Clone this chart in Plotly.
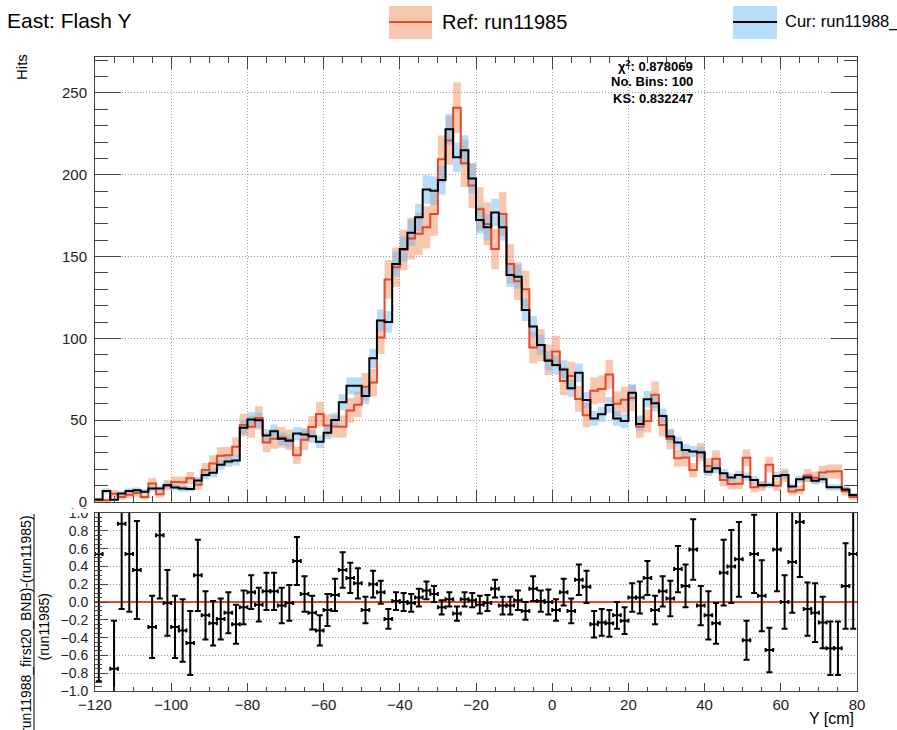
import numpy as np
import plotly.graph_objects as go

# ---------------- data ----------------
BIN_LO, BIN_HI, NBINS = -120.0, 80.0, 100

ref_hits = [
    1.0, 1.0, 5.0, 3.0, 4.5, 5.5, 3.0, 11.3, 4.8, 10.3,
    12.2, 12.0, 14.5, 10.5, 19.5, 23.6, 28.2, 28.5, 33.8, 47.0,
    46.0, 51.3, 36.4, 38.7, 39.5, 38.0, 28.5, 38.0, 45.8, 53.8,
    46.8, 46.2, 46.0, 56.0, 59.5, 70.5, 73.0, 100.5, 136.0, 143.5,
    154.0, 161.0, 164.0, 168.0, 176.0, 209.5, 221.0, 241.0, 207.0, 193.5,
    179.0, 170.0, 154.6, 176.0, 145.5, 135.0, 130.0, 94.5, 96.0, 87.0,
    92.0, 74.0, 77.0, 63.0, 53.0, 68.0, 69.0, 78.0, 60.0, 62.5,
    63.5, 46.0, 49.5, 65.5, 47.0, 38.5, 26.8, 27.2, 19.5, 30.5,
    22.0, 26.5, 13.4, 11.0, 11.2, 27.0, 9.0, 9.8, 22.8, 10.0,
    16.4, 6.4, 7.4, 16.2, 14.8, 18.0, 18.6, 18.8, 6.6, 3.0,
]
ref_err = [
    1.0, 1.0, 2.2, 1.7, 2.1, 2.3, 1.7, 3.4, 2.2, 3.2,
    3.5, 3.5, 3.8, 3.2, 4.4, 4.9, 5.3, 5.3, 5.8, 6.9,
    6.8, 7.2, 6.0, 6.2, 6.3, 6.2, 5.3, 6.2, 6.8, 7.3,
    6.8, 6.8, 6.8, 7.5, 7.7, 8.4, 8.5, 10.0, 11.7, 12.0,
    12.4, 12.7, 12.8, 13.0, 13.3, 14.5, 14.9, 15.5, 14.4, 13.9,
    13.4, 13.0, 12.4, 13.3, 12.1, 11.6, 11.4, 9.7, 9.8, 9.3,
    9.6, 8.6, 8.8, 7.9, 7.3, 8.2, 8.3, 8.8, 7.7, 7.9,
    8.0, 6.8, 7.0, 8.1, 6.9, 6.2, 5.2, 5.2, 4.4, 5.5,
    4.7, 5.1, 3.7, 3.3, 3.3, 5.2, 3.0, 3.1, 4.8, 3.2,
    4.0, 2.5, 2.7, 4.0, 3.8, 4.2, 4.3, 4.3, 2.6, 1.7,
]
cur_hits = [
    1.5, 6.8, 1.4, 5.2, 6.8, 7.2, 6.2, 8.2, 8.2, 10.3,
    8.9, 8.2, 8.0, 13.2, 16.5, 17.9, 22.7, 24.7, 25.4, 45.4,
    50.5, 50.0, 40.6, 43.3, 38.6, 37.4, 41.8, 41.2, 40.2, 36.8,
    42.4, 50.1, 61.0, 71.0, 71.0, 64.8, 87.8, 111.0, 110.0, 145.5,
    154.6, 164.6, 174.0, 191.0, 190.3, 196.8, 227.8, 210.7, 215.0, 197.8,
    172.4, 168.0, 177.0, 168.0, 138.8, 137.7, 117.4, 107.2, 96.0, 86.4,
    83.7, 81.0, 69.5, 79.0, 62.3, 51.1, 53.6, 59.3, 51.1, 49.5,
    66.8, 47.7, 62.8, 60.3, 52.6, 40.0, 36.3, 31.8, 30.8, 30.2,
    18.5, 20.6, 17.5, 15.0, 16.5, 15.5, 13.4, 10.4, 10.4, 15.9,
    16.5, 9.4, 13.9, 15.0, 13.0, 13.9, 9.0, 9.0, 7.7, 4.3,
]
cur_err = [
    0.8, 1.6, 0.7, 1.4, 1.6, 1.7, 1.6, 1.8, 1.8, 2.0,
    1.9, 1.8, 1.8, 2.3, 2.6, 2.7, 3.0, 3.1, 3.2, 4.2,
    4.5, 4.5, 4.0, 4.1, 3.9, 3.9, 4.1, 4.0, 4.0, 3.8,
    4.1, 4.5, 4.9, 5.3, 5.3, 5.1, 5.9, 6.6, 6.6, 7.6,
    7.8, 8.1, 8.3, 8.7, 8.7, 8.8, 9.5, 9.1, 9.2, 8.9,
    8.3, 8.2, 8.4, 8.2, 7.4, 7.4, 6.8, 6.5, 6.2, 5.9,
    5.8, 5.7, 5.3, 5.6, 5.0, 4.5, 4.6, 4.9, 4.5, 4.4,
    5.1, 4.4, 5.0, 4.9, 4.6, 4.0, 3.8, 3.6, 3.5, 3.5,
    2.7, 2.9, 2.6, 2.4, 2.6, 2.5, 2.3, 2.0, 2.0, 2.5,
    2.6, 1.9, 2.3, 2.4, 2.3, 2.3, 1.9, 1.9, 1.7, 1.3,
]
ratio = [
    0.54, None, -0.75, 0.88, 0.54, 0.36, None, -0.28, 0.75, -0.01,
    -0.28, -0.32, -0.46, 0.30, -0.15, -0.24, -0.19, -0.12, -0.25, -0.06,
    0.11, -0.03, 0.12, 0.12, -0.04, -0.01, 0.46, 0.09, -0.12, -0.32,
    -0.09, 0.08, 0.36, 0.27, 0.21, -0.09, 0.20, 0.11, -0.19, 0.01,
    0.00, -0.01, 0.05, 0.13, 0.09, -0.06, 0.03, -0.13, 0.03, 0.02,
    -0.03, -0.01, 0.15, -0.04, -0.04, 0.02, -0.10, 0.15, 0.01, 0.00,
    -0.09, 0.11, -0.10, 0.25, 0.17, -0.25, -0.23, -0.24, -0.15, -0.21,
    0.05, 0.05, 0.27, -0.09, 0.12, 0.04, 0.37, 0.18, 0.59, -0.04,
    -0.15, -0.24, 0.33, 0.40, 0.48, -0.43, 0.54, 0.07, -0.54, 0.59,
    0.00, 0.45, 0.90, -0.08, -0.12, -0.23, -0.52, -0.52, 0.18, 0.54,
]
ratio_err = [
    1.43, 0, 0.54, 0.96, 0.65, 0.55, 0, 0.35, 0.71, 0.37,
    0.35, 0.35, 0.36, 0.40, 0.27, 0.25, 0.23, 0.23, 0.22, 0.19,
    0.19, 0.19, 0.21, 0.21, 0.20, 0.20, 0.27, 0.20, 0.19, 0.17,
    0.18, 0.18, 0.20, 0.17, 0.17, 0.15, 0.15, 0.13, 0.11, 0.10,
    0.10, 0.10, 0.10, 0.10, 0.09, 0.08, 0.08, 0.08, 0.08, 0.08,
    0.10, 0.09, 0.10, 0.10, 0.10, 0.11, 0.10, 0.14, 0.12, 0.14,
    0.12, 0.15, 0.14, 0.17, 0.18, 0.15, 0.15, 0.15, 0.15, 0.15,
    0.16, 0.18, 0.19, 0.16, 0.17, 0.20, 0.26, 0.24, 0.34, 0.22,
    0.27, 0.23, 0.37, 0.41, 0.42, 0.22, 0.44, 0.40, 0.25, 0.47,
    0.30, 0.57, 0.62, 0.30, 0.33, 0.29, 0.30, 0.30, 0.48, 0.84,
]

stats_lines = ["χ<sup>2</sup>: 0.878069", "No. Bins: 100", "KS: 0.832247"]

# ---------------- helpers ----------------
edges = np.linspace(BIN_LO, BIN_HI, NBINS + 1)
centers = 0.5 * (edges[:-1] + edges[1:])
halfw = 0.5 * (edges[1] - edges[0])

FONT = "Liberation Sans, Arial, Helvetica, sans-serif"
RED = "#e8472a"
REF_FILL = "rgba(238,130,80,0.45)"
CUR_FILL = "rgba(110,190,245,0.50)"
GRID = "#9a9a9a"
GRID_DASH = "1px,2px"

W, H = 897, 730
ML, MR, MT, MB = 95, 40, 57, 39
PW, PH = W - ML - MR, H - MT - MB


def PX(xp):
    return (xp - ML) / PW


def PY(yp):
    return (H - MB - yp) / PH


def band(vals, errs):
    xs, ys = [], []
    for i in range(NBINS):
        xs += [edges[i], edges[i + 1]]
        ys += [vals[i] + errs[i]] * 2
    for i in reversed(range(NBINS)):
        xs += [edges[i + 1], edges[i]]
        ys += [max(vals[i] - errs[i], 0)] * 2
    return xs, ys


def step(vals):
    return list(edges), list(vals) + [vals[-1]]


fig = go.Figure()

for vals, errs, col in [(ref_hits, ref_err, REF_FILL), (cur_hits, cur_err, CUR_FILL)]:
    bx, by = band(vals, errs)
    fig.add_trace(go.Scatter(x=bx, y=by, fill="toself", fillcolor=col, mode="lines",
                             line=dict(width=0), hoverinfo="skip", showlegend=False,
                             xaxis="x", yaxis="y"))
for vals, col in [(ref_hits, RED), (cur_hits, "black")]:
    sx, sy = step(vals)
    fig.add_trace(go.Scatter(x=sx, y=sy, mode="lines", line=dict(color=col, width=2, shape="hv"),
                             showlegend=False, xaxis="x", yaxis="y"))

fig.add_trace(go.Scatter(x=[BIN_LO, BIN_HI], y=[0, 0], mode="lines",
                         line=dict(color=RED, width=2), showlegend=False,
                         xaxis="x2", yaxis="y2"))
fig.add_trace(go.Scatter(
    x=centers, y=ratio, mode="markers",
    marker=dict(size=2, color="black"),
    error_x=dict(type="constant", value=halfw, color="black", thickness=2, width=2),
    error_y=dict(type="data", array=ratio_err, color="black", thickness=2, width=3),
    showlegend=False, xaxis="x2", yaxis="y2"))

axis_common = dict(showline=True, linecolor="#444", linewidth=1, ticks="inside",
                   tickcolor="#444", tickfont=dict(family=FONT, size=15, color="#222"),
                   zeroline=False)

top_dom = [PY(502), 1.0]
bot_dom = [0.0, PY(513)]

fig.update_layout(
    width=W, height=H, margin=dict(l=ML, r=MR, t=MT, b=MB),
    paper_bgcolor="white", plot_bgcolor="white",
    xaxis=dict(domain=[0, 1], range=[BIN_LO, BIN_HI], anchor="y", matches="x2",
               showticklabels=False, dtick=20, tick0=0, ticklen=12, mirror="ticks",
               showgrid=True, gridcolor=GRID, griddash=GRID_DASH, gridwidth=1,
               minor=dict(dtick=5, ticklen=6, ticks="inside", tickcolor="#444", showgrid=False),
               **axis_common),
    yaxis=dict(domain=top_dom, range=[0, 272], anchor="x", dtick=50, tick0=0, ticklen=26,
               mirror="ticks", showgrid=True, gridcolor=GRID, griddash=GRID_DASH, gridwidth=1,
               minor=dict(dtick=10, ticklen=13, ticks="inside", tickcolor="#444", showgrid=False),
               ticklabelstandoff=4, **axis_common),
    xaxis2=dict(domain=[0, 1], range=[BIN_LO, BIN_HI], anchor="y2", dtick=20, tick0=0, ticklen=8,
                mirror=True, showgrid=False,
                minor=dict(dtick=5, ticklen=4, ticks="inside", tickcolor="#444", showgrid=False),
                **axis_common),
    yaxis2=dict(domain=bot_dom, range=[-1.0, 1.0], anchor="x2", dtick=0.2, tick0=0, ticklen=13,
                tickformat=".1f", mirror=True, showgrid=True, gridcolor=GRID,
                griddash=GRID_DASH, gridwidth=1,
                minor=dict(dtick=0.05, ticklen=7, ticks="inside", tickcolor="#444", showgrid=False),
                ticklabelstandoff=3,
                **{**axis_common, "tickfont": dict(family=FONT, size=14, color="#222")}),
)

ann = []


def add_text(text, xp, yp, size, xanchor="center", angle=0, bold=False):
    ann.append(dict(text=(f"<b>{text}</b>" if bold else text), x=PX(xp), y=PY(yp),
                    xref="paper", yref="paper", xanchor=xanchor, yanchor="middle",
                    textangle=angle, showarrow=False,
                    font=dict(family=FONT, size=size, color="black")))


add_text("East: Flash Y", 5, 21, 21, xanchor="left")
add_text("Ref: run11985", 440, 22, 20, xanchor="left")
add_text("Cur: run11988_", 783, 22, 16.5, xanchor="left")
add_text("Hits", 21, 67, 15, angle=-90)
add_text("(run11988_first20_BNB)-(run11985)", 25.5, 627, 14, angle=-90)
add_text("(run11985)", 43.5, 627, 14, angle=-90)
add_text("Y [cm]", 856, 718, 16, xanchor="right")
for i, s in enumerate(stats_lines):
    add_text(s, 695, 66 + 16 * i, 13, xanchor="right", bold=True)

fig.update_layout(annotations=ann)

shapes = [
    dict(type="rect", xref="paper", yref="paper", x0=PX(389), x1=PX(432), y0=PY(39), y1=PY(6),
         fillcolor="rgb(247,199,176)", line=dict(width=0)),
    dict(type="line", xref="paper", yref="paper", x0=PX(389), x1=PX(432), y0=PY(22), y1=PY(22),
         line=dict(color=RED, width=2)),
    dict(type="rect", xref="paper", yref="paper", x0=PX(733), x1=PX(777), y0=PY(39), y1=PY(6),
         fillcolor="rgb(182,222,250)", line=dict(width=0)),
    dict(type="line", xref="paper", yref="paper", x0=PX(733), x1=PX(777), y0=PY(22), y1=PY(22),
         line=dict(color="black", width=2)),
    dict(type="line", xref="paper", yref="paper", x0=PX(34), x1=PX(34), y0=PY(514), y1=PY(745),
         line=dict(color="black", width=1)),
    # the upper pad hides the top half of the "1.0" label of the ratio axis
    dict(type="rect", xref="paper", yref="paper", x0=PX(50), x1=PX(93.5), y0=PY(513), y1=PY(508.5),
         fillcolor="white", line=dict(width=0), layer="above"),
]
fig.update_layout(shapes=shapes)

fig.write_html("out.html")
